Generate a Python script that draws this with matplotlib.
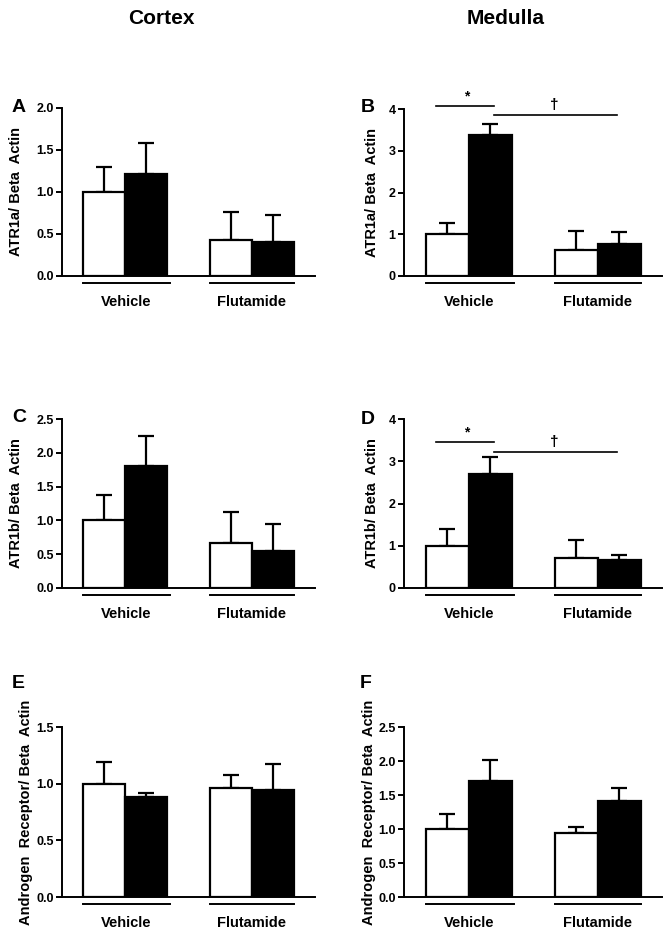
import matplotlib.pyplot as plt

plt.rcParams['font.family'] = ['Liberation Sans', 'DejaVu Sans']
plt.rcParams['font.weight'] = 'bold'

groups = ['Vehicle', 'Flutamide']

# mean / upper error for each panel: [veh white, veh black, flut white, flut black]
a_means = [1.00, 1.22, 0.43, 0.40]
a_errs = [0.30, 0.36, 0.33, 0.33]
b_means = [1.00, 3.38, 0.63, 0.76]
b_errs = [0.28, 0.27, 0.45, 0.29]
c_means = [1.00, 1.81, 0.67, 0.54]
c_errs = [0.38, 0.44, 0.45, 0.40]
d_means = [1.00, 2.71, 0.71, 0.67]
d_errs = [0.39, 0.39, 0.43, 0.11]
e_means = [1.00, 0.88, 0.96, 0.94]
e_errs = [0.19, 0.04, 0.12, 0.23]
f_means = [1.00, 1.71, 0.94, 1.41]
f_errs = [0.22, 0.31, 0.09, 0.19]

W, H = 672, 935
fig = plt.figure(figsize=(6.72, 9.35), dpi=100)


def px_axes(left, right, top, bottom):
    return fig.add_axes([left / W, 1 - bottom / H, (right - left) / W, (bottom - top) / H])


def panel(ax, means, errs, ymax, ticks, ticklabels, ylabel, lab_x):
    pos = [1, 2, 4, 5]
    colors = ['white', 'black', 'white', 'black']
    ax.bar(pos, means, width=1.0, color=colors, edgecolor='black', linewidth=1.6, zorder=2)
    ax.errorbar(pos, means, yerr=[[0] * 4, errs], fmt='none', ecolor='black',
                elinewidth=1.6, capsize=6, capthick=1.6, zorder=1)
    ax.set_xlim(0, 6)
    ax.set_ylim(0, ymax)
    ax.set_yticks(ticks)
    ax.set_yticklabels(ticklabels, fontsize=9, fontweight='bold')
    ax.set_xticks([])
    for s in ['top', 'right']:
        ax.spines[s].set_visible(False)
    for s in ['left', 'bottom']:
        ax.spines[s].set_linewidth(1.4)
    ax.tick_params(axis='y', direction='out', length=4, width=1.4, pad=2)
    ax.set_ylabel(ylabel, fontsize=10.5, fontweight='bold')
    ax.yaxis.set_label_coords(lab_x, 0.5)
    tr = ax.get_xaxis_transform()
    for x0, x1, name in [(0.5, 2.55, groups[0]), (3.5, 5.5, groups[1])]:
        ax.plot([x0, x1], [-0.042, -0.042], color='black', lw=1.4, transform=tr, clip_on=False)
        ax.text((x0 + x1) / 2, -0.155, name, transform=tr, ha='center', va='center',
                fontsize=10.5, fontweight='bold')


def sig(ax, y1, y2):
    ax.plot([0.75, 2.1], [y1, y1], color='black', lw=1.2, clip_on=False)
    ax.text(1.45, y1 + 0.06, '*', ha='center', va='bottom', fontsize=10, fontweight='bold')
    ax.plot([2.1, 4.95], [y2, y2], color='black', lw=1.2, clip_on=False)
    ax.text(3.5, y2 + 0.06, '\u2020', ha='center', va='bottom', fontsize=11, fontweight='bold')


axA = px_axes(62, 315, 108, 276)
axB = px_axes(404, 662, 109, 276)
axC = px_axes(62, 315, 419, 588)
axD = px_axes(404, 662, 419, 588)
axE = px_axes(62, 315, 727, 897)
axF = px_axes(404, 662, 727, 897)

t05 = [0.0, 0.5, 1.0, 1.5, 2.0, 2.5]
panel(axA, a_means, a_errs, 2.0, t05[:5], ['0.0', '0.5', '1.0', '1.5', '2.0'],
      'ATR1a/ Beta  Actin', -0.154)
panel(axB, b_means, b_errs, 4, [0, 1, 2, 3, 4], ['0', '1', '2', '3', '4'],
      'ATR1a/ Beta  Actin', -0.097)
panel(axC, c_means, c_errs, 2.5, t05, ['0.0', '0.5', '1.0', '1.5', '2.0', '2.5'],
      'ATR1b/ Beta  Actin', -0.154)
panel(axD, d_means, d_errs, 4, [0, 1, 2, 3, 4], ['0', '1', '2', '3', '4'],
      'ATR1b/ Beta  Actin', -0.097)
panel(axE, e_means, e_errs, 1.5, t05[:4], ['0.0', '0.5', '1.0', '1.5'],
      'Androgen  Receptor/ Beta  Actin', -0.115)
panel(axF, f_means, f_errs, 2.5, t05, ['0.0', '0.5', '1.0', '1.5', '2.0', '2.5'],
      'Androgen  Receptor/ Beta  Actin', -0.11)

sig(axB, 4.07, 3.86)
sig(axD, 3.46, 3.22)

for letter, x, y in [('A', 19, 108), ('B', 368, 107), ('C', 19, 418),
                     ('D', 368, 419), ('E', 18, 683), ('F', 366, 683)]:
    fig.text(x / W, 1 - y / H, letter, ha='center', va='center', fontsize=14, fontweight='bold')

fig.text(161 / W, 1 - 18 / H, 'Cortex', ha='center', va='center', fontsize=15, fontweight='bold')
fig.text(506 / W, 1 - 18 / H, 'Medulla', ha='center', va='center', fontsize=15, fontweight='bold')

fig.savefig('out.png', dpi=100)
